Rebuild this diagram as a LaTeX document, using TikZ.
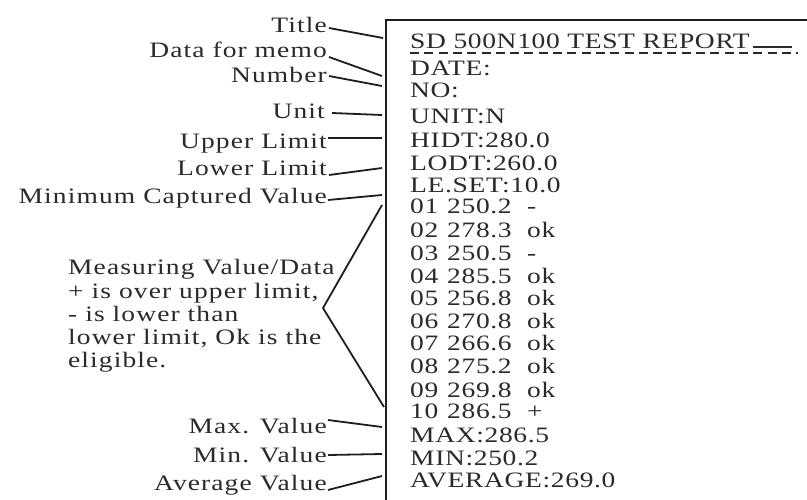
\documentclass[tikz,border=0pt]{standalone}
\usepackage{fontspec}
\setmainfont{Liberation Serif}[FakeStretch=1.25,LetterSpace=5]
\newfontfamily\repfont{Liberation Serif}[FakeStretch=1.25,LetterSpace=3]
\begin{document}
\begin{tikzpicture}[x=1pt,y=-1pt,
  lab/.style={anchor=base east,inner sep=0pt,text=txt,font=\fontsize{22}{23}\selectfont},
  mtxt/.style={anchor=base west,inner sep=0pt,text=txt,font=\fontsize{22}{23}\selectfont},
  rep/.style={anchor=base west,inner sep=0pt,text=txt,font=\repfont\fontsize{22}{23}\selectfont},
  con/.style={line width=1.8pt,draw=ln},
  frame/.style={line width=2.4pt,draw=ln}]
\definecolor{txt}{HTML}{2A2A2A}
\definecolor{ln}{HTML}{1E1E1E}
\useasboundingbox (0,0) rectangle (807,499);
\clip (0,0) rectangle (807,499);
\fill[white] (0,0) rectangle (807,499);
% frame
\coordinate (fb) at (386,510);
\coordinate (ft) at (386,20);
\coordinate (fr) at (820,20);
\draw[frame] (fb) -- (ft) -- (fr);
% report text
\node[rep] (r0) at (410,48) {SD 500N100 TEST REPORT};
\coordinate (ul1) at (753,47);
\coordinate (ul2) at (792,47);
\draw[line width=1.2pt,draw=txt] (ul1) -- (ul2);
\coordinate (d1) at (410,53);
\coordinate (d2) at (798,53);
\draw[line width=1.5pt,draw=txt,dash pattern=on 9pt off 5.3pt] (d1) -- (d2);
\node[rep] (r1) at (410,75) {DATE:};
\node[rep] (r2) at (410,97) {NO:};
\node[rep] (r3) at (410,123) {UNIT:N};
\node[rep] (r4) at (410,147) {HIDT:280.0};
\node[rep] (r5) at (410,170) {LODT:260.0};
\node[rep] (r6) at (410,192) {LE.SET:10.0};
\newcommand{\mrow}[3]{\makebox[37pt][l]{#1}\makebox[80pt][l]{#2}#3}
\node[rep] (m1) at (410,213) {\mrow{01}{250.2}{-}};
\node[rep] (m2) at (410,237) {\mrow{02}{278.3}{ok}};
\node[rep] (m3) at (410,260) {\mrow{03}{250.5}{-}};
\node[rep] (m4) at (410,283) {\mrow{04}{285.5}{ok}};
\node[rep] (m5) at (410,305) {\mrow{05}{256.8}{ok}};
\node[rep] (m6) at (410,328) {\mrow{06}{270.8}{ok}};
\node[rep] (m7) at (410,350) {\mrow{07}{266.6}{ok}};
\node[rep] (m8) at (410,373) {\mrow{08}{275.2}{ok}};
\node[rep] (m9) at (410,397) {\mrow{09}{269.8}{ok}};
\node[rep] (m10) at (410,418) {\mrow{10}{286.5}{+}};
\node[rep] (r7) at (410,442) {MAX:286.5};
\node[rep] (r8) at (410,465) {MIN:250.2};
\node[rep] (r9) at (410,487) {AVERAGE:269.0};
% labels
\node[lab] (l1) at (327,32) {Title};
\node[lab] (l2) at (327,57) {Data for memo};
\node[lab] (l3) at (327,82) {Number};
\node[lab] (l4) at (325,118) {Unit};
\node[lab] (l5) at (327,148) {Upper Limit};
\node[lab] (l6) at (327,175) {Lower Limit};
\node[lab] (l7) at (327,203) {Minimum Captured Value};
\node[lab] (l8) at (327,433) {Max. Value};
\node[lab] (l9) at (327,462) {Min. Value};
\node[lab] (l10) at (327,490) {Average Value};
\node[mtxt] (ms1) at (68,274) {Measuring Value/Data};
\node[mtxt] (ms2) at (68,298) {+ is over upper limit,};
\node[mtxt] (ms3) at (68,321) {- is lower than};
\node[mtxt] (ms4) at (68,344) {lower limit, Ok is the};
\node[mtxt] (ms5) at (68,367) {eligible.};
% connector ends on the frame
\coordinate (e1) at (383,38);
\coordinate (e2) at (382,76);
\coordinate (e3) at (382,86);
\coordinate (e4) at (382,115);
\coordinate (e5) at (382,138);
\coordinate (e6) at (382,168);
\coordinate (e7) at (382,195);
\coordinate (e8) at (382,427);
\coordinate (e9) at (382,454);
\coordinate (e10) at (382,476);
\coordinate (vt) at (382,205);
\coordinate (vx) at (323,308);
\coordinate (vb) at (384,407);
\draw[con] ([xshift=2pt,yshift=4pt]l1.base east) -- (e1);
\draw[con] ([xshift=2pt]l2.base east) -- (e2);
\draw[con] ([xshift=2pt,yshift=6pt]l3.base east) -- (e3);
\draw[con] ([xshift=7pt,yshift=5pt]l4.base east) -- (e4);
\draw[con] ([xshift=1pt,yshift=10pt]l5.base east) -- (e5);
\draw[con] ([xshift=2pt]l6.base east) -- (e6);
\draw[con] ([xshift=1pt,yshift=3pt]l7.base east) -- (e7);
\draw[con] ([xshift=1pt,yshift=13pt]l8.base east) -- (e8);
\draw[con] ([xshift=1pt,yshift=7pt]l9.base east) -- (e9);
\draw[con] ([xshift=1pt]l10.base east) -- (e10);
\draw[con] (vt) -- (vx) -- (vb);
\end{tikzpicture}
\end{document}
